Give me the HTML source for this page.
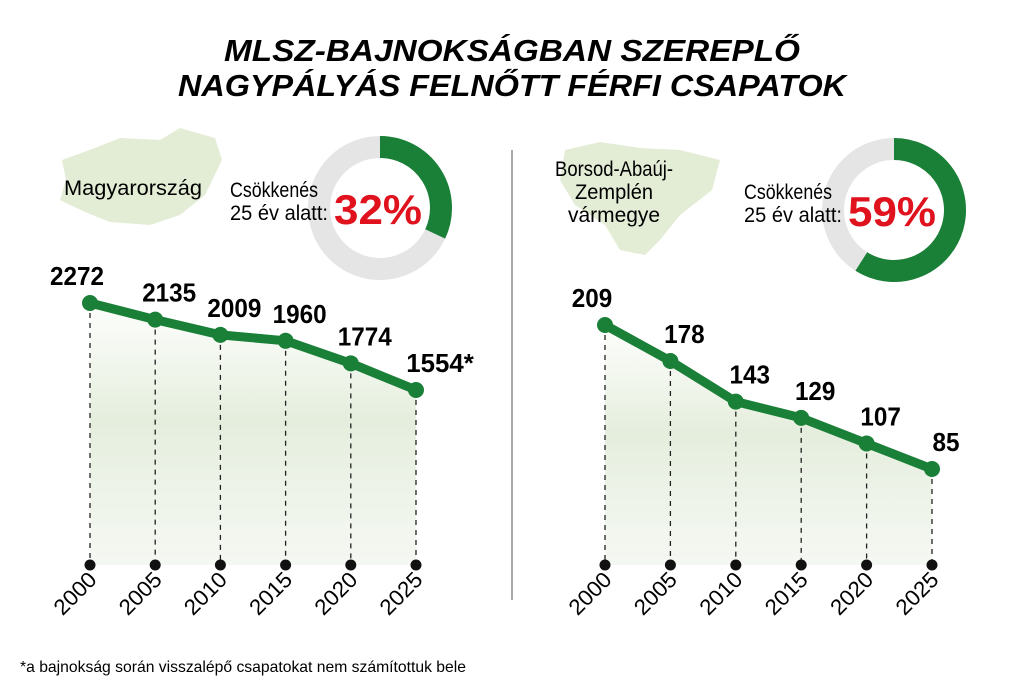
<!DOCTYPE html>
<html><head><meta charset="utf-8"><style>
html,body{margin:0;padding:0;background:#fff;}
svg{display:block;font-family:"Liberation Sans",sans-serif;}
</style></head><body>
<svg id="chart" width="1024" height="691" viewBox="0 0 1024 691">
<defs>
<linearGradient id="fade" x1="0" y1="0" x2="0" y2="1">
<stop offset="0" stop-color="#e8f0e0" stop-opacity="0.1"/>
<stop offset="0.45" stop-color="#e3eddb" stop-opacity="0.95"/>
<stop offset="1" stop-color="#eef3ea" stop-opacity="0.6"/>
</linearGradient>
</defs>
<text x="512" y="61" text-anchor="middle" font-size="31" font-weight="bold" font-style="italic" textLength="576" lengthAdjust="spacingAndGlyphs">MLSZ-BAJNOKSÁGBAN SZEREPLŐ</text>
<text x="512" y="96" text-anchor="middle" font-size="31" font-weight="bold" font-style="italic" textLength="668" lengthAdjust="spacingAndGlyphs">NAGYPÁLYÁS FELNŐTT FÉRFI CSAPATOK</text>
<line x1="512" y1="150" x2="512" y2="600" stroke="#555" stroke-width="1"/>
<path d="M62 160 L95 148 L120 138 L160 140 L180 128 L215 138 L222 160 L205 195 L180 215 L150 225 L110 222 L85 212 L60 200 L66 180 Z" fill="#e3ecd5"/>
<path d="M565 150 L600 142 L640 148 L680 150 L720 160 L712 190 L680 215 L660 240 L645 255 L620 250 L605 225 L575 205 L560 180 Z" fill="#e3ecd5"/>
<text x="64" y="195" font-size="21" textLength="138" lengthAdjust="spacingAndGlyphs">Magyarország</text>
<text x="614" y="176" text-anchor="middle" font-size="21" textLength="118" lengthAdjust="spacingAndGlyphs">Borsod-Abaúj-</text>
<text x="614" y="199" text-anchor="middle" font-size="21" textLength="78" lengthAdjust="spacingAndGlyphs">Zemplén</text>
<text x="614" y="222" text-anchor="middle" font-size="21" textLength="92" lengthAdjust="spacingAndGlyphs">vármegye</text>
<g id="left"></g>
<g id="right"></g>
<text x="20" y="672" font-size="16" textLength="446" lengthAdjust="spacingAndGlyphs">*a bajnokság során visszalépő csapatokat nem számítottuk bele</text>
</svg>
<script>
const years = ["2000","2005","2010","2015","2020","2025"];
const valuesHungary = [2272,2135,2009,1960,1774,1554];
const labelsHungary = ["2272","2135","2009","1960","1774","1554*"];
const valuesCounty = [209,178,143,129,107,85];
const labelsCounty = ["209","178","143","129","107","85"];
const declineHungary = 32;
const declineCounty = 59;

const NS="http://www.w3.org/2000/svg";
function mk(tag,attrs,parent){const e=document.createElementNS(NS,tag);for(const k in attrs)e.setAttribute(k,attrs[k]);parent.appendChild(e);return e;}

function panel(g,x0,step,yTop,yBot,vals,labels,pct,cx,cy){
  const vmax=Math.max(...vals), vmin=Math.min(...vals);
  const xs=i=>x0+i*step;
  const ys=v=>yTop+(vmax-v)*(yBot-yTop)/(vmax-vmin);
  const baseY=565;
  let d="M"+xs(0)+" "+ys(vals[0]);
  vals.forEach((v,i)=>{d+=" L"+xs(i)+" "+ys(v);});
  d+=" L"+xs(vals.length-1)+" "+baseY+" L"+xs(0)+" "+baseY+" Z";
  const area=mk("path",{d:d,fill:"url(#fade)"},g);
  
  
  vals.forEach((v,i)=>{
    const ln=mk("line",{x1:xs(i),y1:ys(v),x2:xs(i),y2:baseY,stroke:"#222","stroke-width":1.3,"stroke-dasharray":"5,5"},g);
    
    
    const dot=mk("circle",{cx:xs(i),cy:baseY,r:5.5,fill:"#111"},g);
    
    
    const t=mk("text",{x:0,y:0,"font-size":22,"text-anchor":"end",transform:"translate("+(xs(i)+8)+","+(baseY+16)+") rotate(-45)",textLength:50,lengthAdjust:"spacingAndGlyphs"},g);
    t.textContent=years[i];
    
    
  });
  const pts=vals.map((v,i)=>xs(i)+","+ys(v)).join(" ");
  const pl=mk("polyline",{points:pts,fill:"none",stroke:"#1a7f37","stroke-width":9,"stroke-linejoin":"round"},g);
  
  
  vals.forEach((v,i)=>{
    const c=mk("circle",{cx:xs(i),cy:ys(v),r:8,fill:"#1a7f37"},g);
    
    
    const lab=labels[i];
    const w=lab.length*13.5;
    const isLast=i===vals.length-1;
    const isFirst=i===0;
    const lx=isFirst?xs(i)-13:(isLast?xs(i)+(lab.length>3?24:14):xs(i)+14);
    const t=mk("text",{x:lx,y:ys(v)-18,"font-size":26,"font-weight":"bold","text-anchor":"middle",textLength:w,lengthAdjust:"spacingAndGlyphs"},g);
    t.textContent=lab;
    
    
  });
  const R=61, W=22;
  const ring=mk("circle",{cx:cx,cy:cy,r:R,fill:"none",stroke:"#e5e5e5","stroke-width":W},g);
  
  
  const a=pct/100*2*Math.PI;
  const ex=cx+R*Math.sin(a), ey=cy-R*Math.cos(a);
  const arc=mk("path",{d:"M"+cx+" "+(cy-R)+" A"+R+" "+R+" 0 "+(pct>50?1:0)+" 1 "+ex+" "+ey,fill:"none",stroke:"#1a7f37","stroke-width":W},g);
  
  
  const t1=mk("text",{x:cx-150,y:cy-11,"font-size":21,textLength:88,lengthAdjust:"spacingAndGlyphs"},g);
  t1.textContent="Csökkenés";
  
  
  const t2=mk("text",{x:cx-150,y:cy+12,"font-size":21,textLength:98,lengthAdjust:"spacingAndGlyphs"},g);
  t2.textContent="25 év alatt:";
  
  
  const t3=mk("text",{x:cx-46,y:cy+16,"font-size":42,"font-weight":"bold",fill:"#e0121d",textLength:88,lengthAdjust:"spacingAndGlyphs"},g);
  t3.textContent=pct+"%";
  
  
}
panel(document.getElementById("left"),90,65.2,303,390,valuesHungary,labelsHungary,declineHungary,380,208);
panel(document.getElementById("right"),605,65.4,325,469,valuesCounty,labelsCounty,declineCounty,894,210);
</script>
</body></html>
